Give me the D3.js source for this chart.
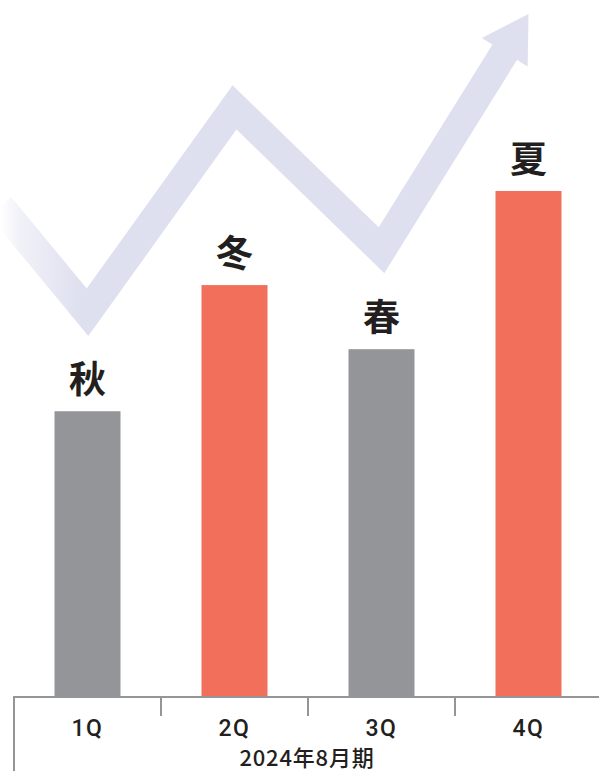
<!DOCTYPE html>
<html><head><meta charset="utf-8">
<script src="https://cdn.jsdelivr.net/npm/d3@7"></script>
<style>html,body{margin:0;padding:0;background:#fff;overflow:hidden}</style>
</head><body>
<svg id="chart" width="599" height="771"></svg>
<script>
// Data
const quarters = ["1Q", "2Q", "3Q", "4Q"];
const seasons = ["秋", "冬", "春", "夏"];
const values = [41.0, 59.1, 49.9, 72.6];
const barColors = ["#939598", "#f26f5b", "#939598", "#f26f5b"];
const periodLabel = "2024年8月期";
// decorative trend arrow: [quarter position, value]
const arrowPos = [-0.595, 0, 1, 2, 2.84];
const arrowVal = [70.4, 55.2, 84.6, 64.1, 92.5];
const arrowTip = [3.0, 98.0];

const svg = d3.select("#chart");
const baseY = 697;
const x = d3.scaleBand().domain(quarters).range([14, 602]).paddingInner(0.551).paddingOuter(0.2755);
const step = x.step();
const xc = i => 14 + step * (i + 0.5);
const y = d3.scaleLinear().domain([0, 100]).range([baseY, 0]);

// gradient for arrow
const defs = svg.append("defs");
const g = defs.append("linearGradient").attr("id", "fade").attr("gradientUnits", "userSpaceOnUse")
  .attr("x1", 0).attr("y1", 0).attr("x2", 80).attr("y2", 0);
g.append("stop").attr("offset", 0).attr("stop-color", "#dfe0ef").attr("stop-opacity", 0);
g.append("stop").attr("offset", 0.25).attr("stop-color", "#dfe0ef").attr("stop-opacity", 0.45);
g.append("stop").attr("offset", 1).attr("stop-color", "#dfe0ef").attr("stop-opacity", 1);

const pts = arrowPos.map((p, i) => [xc(p), y(arrowVal[i])]);
const tip = [xc(arrowTip[0]), y(arrowTip[1])];
const prev = pts[pts.length - 2];
const dx = tip[0] - prev[0], dy = tip[1] - prev[1], L = Math.hypot(dx, dy);
const ux = dx / L, uy = dy / L;
const headLen = 45, headHalf = 27;
const base = [tip[0] - ux * headLen, tip[1] - uy * headLen];
pts[pts.length - 1] = [base[0] + ux * 1, base[1] + uy * 1];

svg.append("path")
  .attr("d", d3.line()(pts))
  .attr("fill", "none")
  .attr("stroke", "url(#fade)")
  .attr("stroke-width", 29)
  .attr("stroke-linejoin", "miter")
  .attr("stroke-miterlimit", 10);
svg.append("path")
  .attr("d", d3.line()([tip, [base[0] - uy * headHalf, base[1] + ux * headHalf], [base[0] + uy * headHalf, base[1] - ux * headHalf]]) + "Z")
  .attr("fill", "#dfe0ef");

// bars
svg.selectAll("rect.bar").data(values).join("rect")
  .attr("class", "bar")
  .attr("x", (d, i) => x(quarters[i]))
  .attr("width", x.bandwidth())
  .attr("y", d => y(d))
  .attr("height", d => baseY - y(d))
  .attr("fill", (d, i) => barColors[i]);

// season labels
svg.selectAll("text.season").data(values).join("text")
  .attr("class", "season")
  .attr("x", (d, i) => x(quarters[i]) + x.bandwidth() / 2)
  .attr("y", d => y(d) - 34)
  .attr("text-anchor", "middle")
  .attr("dominant-baseline", "central")
  .attr("font-family", "'Noto Sans CJK JP', sans-serif")
  .attr("font-weight", 700)
  .attr("font-size", 37)
  .attr("fill", "#231f20")
  .text((d, i) => seasons[i]);

// axis
const axisColor = "#939598";
svg.append("line").attr("x1", 14).attr("x2", 599).attr("y1", baseY).attr("y2", baseY)
  .attr("stroke", axisColor).attr("stroke-width", 2);
svg.append("line").attr("x1", 14).attr("x2", 14).attr("y1", baseY - 1).attr("y2", 771)
  .attr("stroke", axisColor).attr("stroke-width", 2);
svg.selectAll("line.tick").data(quarters.slice(1)).join("line")
  .attr("class", "tick")
  .attr("x1", d => x(d) - x.paddingOuter() * step).attr("x2", d => x(d) - x.paddingOuter() * step)
  .attr("y1", baseY).attr("y2", 716)
  .attr("stroke", axisColor).attr("stroke-width", 2);

const axis = d3.axisBottom(x).tickSize(0).tickPadding(0);
const ag = svg.append("g").attr("transform", `translate(0,${baseY})`).call(axis);
ag.select(".domain").remove();
ag.selectAll("text")
  .attr("y", 39).attr("dy", null)
  .attr("font-family", "Roboto, sans-serif")
  .attr("font-weight", 500)
  .attr("font-size", 23)
  .attr("letter-spacing", 1.5)
  .attr("fill", "#231f20");

svg.append("text")
  .attr("x", 307).attr("y", 766)
  .attr("text-anchor", "middle")
  .attr("font-family", "'Noto Sans CJK JP', sans-serif")
  .attr("font-weight", 500)
  .attr("font-size", 22)
  .attr("letter-spacing", 0.8)
  .attr("fill", "#231f20")
  .text(periodLabel);
</script>
</body></html>
